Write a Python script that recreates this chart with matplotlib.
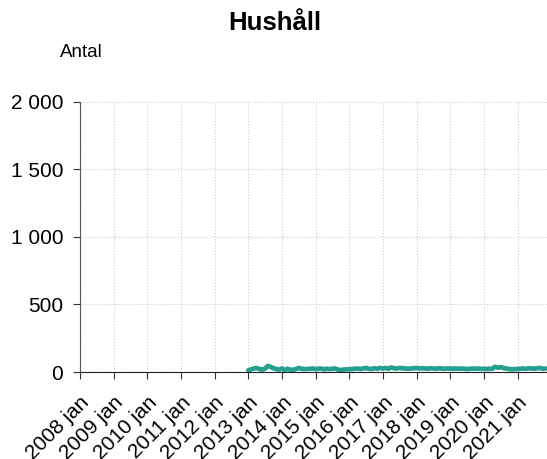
import numpy as np
import pandas as pd
import matplotlib
matplotlib.use("Agg")
from matplotlib import pyplot as plt
from matplotlib.ticker import FuncFormatter

plt.rcParams['font.family'] = ['Liberation Sans', 'DejaVu Sans']

# monthly counts, 2013 jan - 2021 nov
y2013 = [12, 20, 26, 30, 22, 18, 24, 45, 38, 28, 22, 18]
y2014 = [26, 14, 24, 18, 14, 22, 30, 24, 22, 22, 24, 26]
y2015 = [22, 24, 26, 20, 24, 22, 24, 26, 18, 14, 18, 20]
y2016 = [20, 22, 24, 26, 22, 26, 30, 24, 22, 28, 24, 30]
y2017 = [26, 30, 24, 34, 28, 26, 30, 28, 26, 24, 26, 28]
y2018 = [30, 26, 28, 26, 24, 28, 26, 24, 28, 26, 24, 26]
y2019 = [26, 24, 26, 24, 26, 24, 22, 24, 26, 24, 26, 24]
y2020 = [24, 22, 24, 24, 38, 32, 36, 30, 26, 22, 20, 22]
y2021 = [22, 24, 26, 24, 28, 26, 24, 28, 30, 24, 26]
values = y2013 + y2014 + y2015 + y2016 + y2017 + y2018 + y2019 + y2020 + y2021
months = pd.date_range("2013-01-01", periods=len(values), freq="MS")

year_ticks = pd.date_range("2008-01-01", "2021-01-01", freq="YS")
tick_labels = [f"{d.year} jan" for d in year_ticks]

fig = plt.figure(figsize=(5.47, 4.59), dpi=100)
ax = fig.add_axes([0.146, 0.1895, 0.854, 0.5885])

ax.plot(months, values, color="#26a08e", linewidth=3.4, solid_capstyle="round",
        solid_joinstyle="round")

ax.set_xlim(pd.Timestamp("2008-01-01"), pd.Timestamp("2021-11-16"))
ax.set_ylim(0, 2000)
ax.set_yticks([0, 500, 1000, 1500, 2000])
ax.yaxis.set_major_formatter(FuncFormatter(lambda v, p: f"{int(v):,}".replace(",", " ")))
ax.set_xticks(year_ticks)
ax.set_xticklabels(tick_labels, rotation=45, ha="right", rotation_mode="anchor")

ax.grid(True, color="#cccccc", linestyle=":", linewidth=0.8)
ax.set_axisbelow(True)
for s in ["top", "right"]:
    ax.spines[s].set_visible(False)
ax.spines["left"].set_color("#555555")
ax.spines["bottom"].set_color("#222222")
ax.tick_params(axis="both", labelsize=15, length=5, color="#333333")
ax.tick_params(axis="y", pad=7)
ax.tick_params(axis="x", pad=10)

fig.text(0.503, 0.935, "Hushåll", ha="center", va="baseline", fontsize=18.5, fontweight="bold")
fig.text(0.11, 0.876, "Antal", ha="left", va="baseline", fontsize=13.5)

fig.savefig("out.png", dpi=100)
